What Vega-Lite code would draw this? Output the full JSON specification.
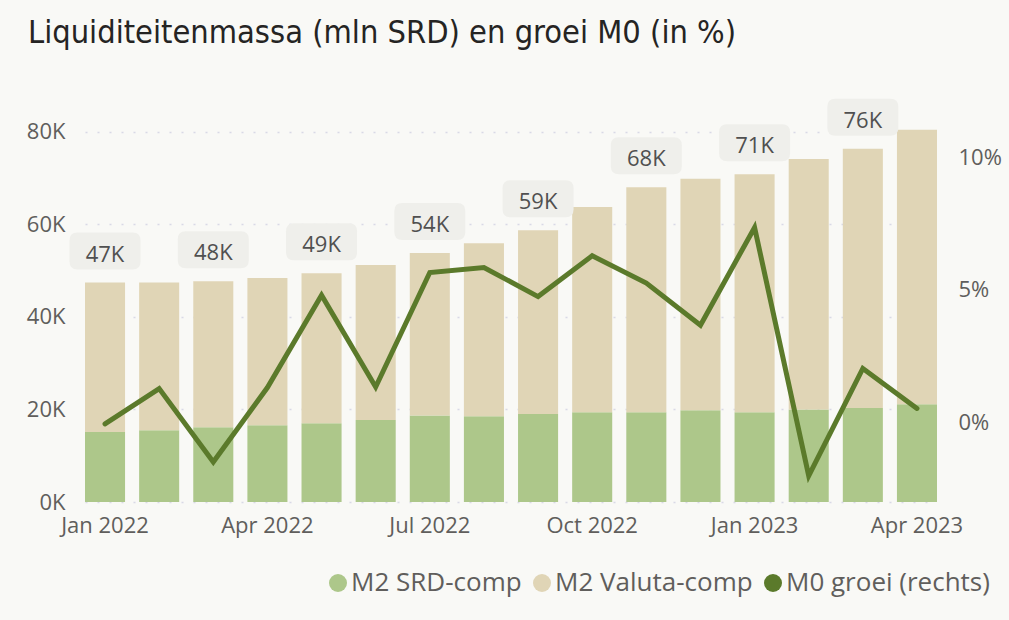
{
  "$schema": "https://vega.github.io/schema/vega-lite/v6.json",
  "width": 852,
  "height": 375,
  "autosize": {"type": "none"},
  "padding": {"left": 85, "top": 127, "right": 72, "bottom": 118},
  "background": "#f9f9f6",
  "title": {
    "text": "Liquiditeitenmassa (mln SRD) en groei M0 (in %)",
    "anchor": "start",
    "frame": "group",
    "dx": -57,
    "font": "DejaVu Sans Condensed",
    "fontSize": 32.3,
    "fontWeight": "normal",
    "color": "#252423",
    "baseline": "alphabetic",
    "offset": 23
  },
  "datasets": {
    "bars": [
      {"month": "Jan 2022", "component": "M2 SRD-comp", "value": 15100},
      {"month": "Jan 2022", "component": "M2 Valuta-comp", "value": 32300},
      {"month": "Feb 2022", "component": "M2 SRD-comp", "value": 15500},
      {"month": "Feb 2022", "component": "M2 Valuta-comp", "value": 31900},
      {"month": "Mar 2022", "component": "M2 SRD-comp", "value": 16150},
      {"month": "Mar 2022", "component": "M2 Valuta-comp", "value": 31550},
      {"month": "Apr 2022", "component": "M2 SRD-comp", "value": 16600},
      {"month": "Apr 2022", "component": "M2 Valuta-comp", "value": 31800},
      {"month": "May 2022", "component": "M2 SRD-comp", "value": 17000},
      {"month": "May 2022", "component": "M2 Valuta-comp", "value": 32400},
      {"month": "Jun 2022", "component": "M2 SRD-comp", "value": 17700},
      {"month": "Jun 2022", "component": "M2 Valuta-comp", "value": 33500},
      {"month": "Jul 2022", "component": "M2 SRD-comp", "value": 18700},
      {"month": "Jul 2022", "component": "M2 Valuta-comp", "value": 35100},
      {"month": "Aug 2022", "component": "M2 SRD-comp", "value": 18500},
      {"month": "Aug 2022", "component": "M2 Valuta-comp", "value": 37400},
      {"month": "Sep 2022", "component": "M2 SRD-comp", "value": 19000},
      {"month": "Sep 2022", "component": "M2 Valuta-comp", "value": 39700},
      {"month": "Oct 2022", "component": "M2 SRD-comp", "value": 19400},
      {"month": "Oct 2022", "component": "M2 Valuta-comp", "value": 44300},
      {"month": "Nov 2022", "component": "M2 SRD-comp", "value": 19400},
      {"month": "Nov 2022", "component": "M2 Valuta-comp", "value": 48600},
      {"month": "Dec 2022", "component": "M2 SRD-comp", "value": 19800},
      {"month": "Dec 2022", "component": "M2 Valuta-comp", "value": 50000},
      {"month": "Jan 2023", "component": "M2 SRD-comp", "value": 19400},
      {"month": "Jan 2023", "component": "M2 Valuta-comp", "value": 51400},
      {"month": "Feb 2023", "component": "M2 SRD-comp", "value": 20000},
      {"month": "Feb 2023", "component": "M2 Valuta-comp", "value": 54100},
      {"month": "Mar 2023", "component": "M2 SRD-comp", "value": 20300},
      {"month": "Mar 2023", "component": "M2 Valuta-comp", "value": 56000},
      {"month": "Apr 2023", "component": "M2 SRD-comp", "value": 21100},
      {"month": "Apr 2023", "component": "M2 Valuta-comp", "value": 59300}
    ],
    "months": [
      {"month": "Jan 2022", "total": 47400, "label": "47K", "m0": -0.05},
      {"month": "Feb 2022", "total": 47400, "label": null, "m0": 1.28},
      {"month": "Mar 2022", "total": 47700, "label": "48K", "m0": -1.49},
      {"month": "Apr 2022", "total": 48400, "label": null, "m0": 1.32},
      {"month": "May 2022", "total": 49400, "label": "49K", "m0": 4.8},
      {"month": "Jun 2022", "total": 51200, "label": null, "m0": 1.34},
      {"month": "Jul 2022", "total": 53800, "label": "54K", "m0": 5.66},
      {"month": "Aug 2022", "total": 55900, "label": null, "m0": 5.85},
      {"month": "Sep 2022", "total": 58700, "label": "59K", "m0": 4.75},
      {"month": "Oct 2022", "total": 63700, "label": null, "m0": 6.29},
      {"month": "Nov 2022", "total": 68000, "label": "68K", "m0": 5.26},
      {"month": "Dec 2022", "total": 69800, "label": null, "m0": 3.67},
      {"month": "Jan 2023", "total": 70800, "label": "71K", "m0": 7.36},
      {"month": "Feb 2023", "total": 74100, "label": null, "m0": -2.01},
      {"month": "Mar 2023", "total": 76300, "label": "76K", "m0": 2.04},
      {"month": "Apr 2023", "total": 80400, "label": null, "m0": 0.53}
    ]
  },
  "encoding": {
    "x": {
      "field": "month",
      "type": "nominal",
      "scale": {
        "domain": ["Jan 2022", "Feb 2022", "Mar 2022", "Apr 2022", "May 2022", "Jun 2022", "Jul 2022", "Aug 2022", "Sep 2022", "Oct 2022", "Nov 2022", "Dec 2022", "Jan 2023", "Feb 2023", "Mar 2023", "Apr 2023"],
        "paddingInner": 0.26,
        "paddingOuter": 0
      },
      "axis": {
        "values": ["Jan 2022", "Apr 2022", "Jul 2022", "Oct 2022", "Jan 2023", "Apr 2023"],
        "labelAngle": 0,
        "labelPadding": 13,
        "title": null,
        "domain": false,
        "ticks": false,
        "grid": false
      }
    }
  },
  "layer": [
    {
      "layer": [
        {
          "data": {"name": "bars"},
          "mark": {"type": "bar"},
          "encoding": {
            "y": {
              "field": "value",
              "type": "quantitative",
              "stack": "zero",
              "scale": {"domain": [0, 81000], "nice": false, "zero": true},
              "axis": {
                "orient": "left",
                "values": [0, 20000, 40000, 60000, 80000],
                "labelExpr": "datum.value / 1000 + 'K'",
                "title": null,
                "grid": true,
                "gridDash": [2, 10],
                "gridColor": "#d9d9e6",
                "gridWidth": 1.5,
                "labelPadding": 20
              }
            },
            "color": {
              "field": "component",
              "type": "nominal",
              "scale": {
                "domain": ["M2 SRD-comp", "M2 Valuta-comp", "M0 groei (rechts)"],
                "range": ["#adc78a", "#e0d5b6", "#5b7a2b"]
              },
              "legend": {
                "orient": "none",
                "legendX": 240,
                "legendY": 443,
                "direction": "horizontal",
                "title": null
              }
            },
            "order": {"field": "component", "sort": "ascending"}
          }
        },
        {
          "data": {"name": "months"},
          "transform": [{"filter": "isValid(datum.label)"}],
          "mark": {
            "type": "point",
            "shape": "M -0.775 -0.521 L 0.775 -0.521 Q 1 -0.521 1 -0.296 L 1 0.296 Q 1 0.521 0.775 0.521 L -0.775 0.521 Q -1 0.521 -1 0.296 L -1 -0.296 Q -1 -0.521 -0.775 -0.521 Z",
            "filled": true,
            "fill": "#efefeb",
            "opacity": 1,
            "strokeWidth": 0,
            "size": 5041,
            "yOffset": -31.5
          },
          "encoding": {
            "y": {"field": "total", "type": "quantitative", "scale": {"domain": [0, 81000], "nice": false}}
          }
        },
        {
          "data": {"name": "months"},
          "transform": [{"filter": "isValid(datum.label)"}],
          "mark": {
            "type": "text",
            "font": "Open Sans",
            "fontSize": 22,
            "color": "#505050",
            "baseline": "alphabetic",
            "dy": -21
          },
          "encoding": {
            "y": {"field": "total", "type": "quantitative", "scale": {"domain": [0, 81000], "nice": false}},
            "text": {"field": "label", "type": "nominal"}
          }
        }
      ]
    },
    {
      "data": {"name": "months"},
      "mark": {"type": "line", "color": "#5b7a2b", "strokeWidth": 5, "strokeCap": "round"},
      "encoding": {
        "y": {
          "field": "m0",
          "type": "quantitative",
          "scale": {"domain": [-3, 11.15], "nice": false, "zero": false},
          "axis": {
            "orient": "right",
            "values": [0, 5, 10],
            "labelExpr": "datum.value + '%'",
            "title": null,
            "grid": false,
            "labelPadding": 21
          }
        }
      }
    }
  ],
  "resolve": {"scale": {"y": "independent"}},
  "config": {
    "view": {"stroke": null},
    "axis": {
      "labelFont": "Open Sans",
      "labelFontSize": 22,
      "labelColor": "#605e5c",
      "domain": false,
      "ticks": false
    },
    "legend": {
      "symbolType": "circle",
      "symbolSize": 324,
      "symbolStrokeWidth": 0,
      "symbolOpacity": 1,
      "labelFont": "Open Sans",
      "labelFontSize": 26,
      "labelColor": "#605e5c",
      "labelOffset": 0,
      "columnPadding": 7,
      "labelLimit": 400
    }
  }
}
